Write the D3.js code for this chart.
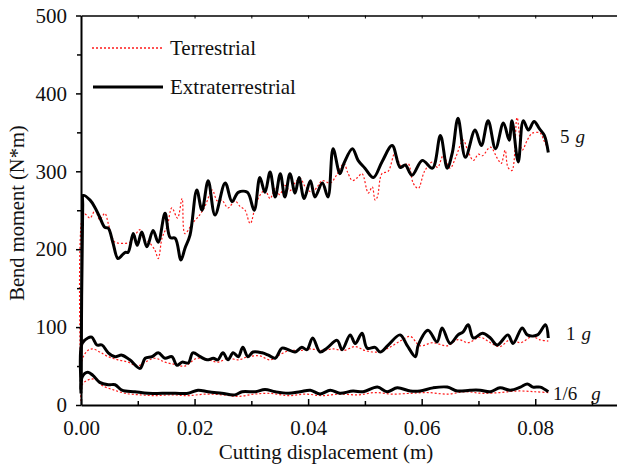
<!DOCTYPE html>
<html><head><meta charset="utf-8">
<script src="https://cdn.jsdelivr.net/npm/d3@7"></script>
<style>body{margin:0;background:#fff}svg{display:block}text{font-family:"Liberation Serif","Times New Roman",serif;fill:#111}</style>
</head><body><svg id="c" width="617" height="466"></svg>
<script>
const xTicks = [0, 0.02, 0.04, 0.06, 0.08];
const yTicks = [0, 100, 200, 300, 400, 500];
const seriesNames = ["Terrestrial", "Extraterrestrial"];
const gravityLabels = ["5 g", "1 g", "1/6 g"];

const ext5g = [[0,20],[0.0003,255],[0.0004,269],[0.0016,263],[0.0025,253],[0.0033,241],[0.0042,228],[0.0048,227],[0.0056,209],[0.0065,188],[0.0072,192],[0.0078,196],[0.0083,196],[0.0092,220],[0.0099,205],[0.0107,222],[0.0116,203],[0.0127,224],[0.0136,209],[0.0148,246],[0.0157,215],[0.0166,214],[0.0176,186],[0.0183,201],[0.0192,218],[0.0204,276],[0.0213,250],[0.0224,288],[0.0236,244],[0.0254,285],[0.0266,261],[0.0277,273],[0.0293,273],[0.0305,250],[0.0315,292],[0.0324,273],[0.0333,299],[0.0342,267],[0.0351,297],[0.0359,267],[0.0368,297],[0.0377,272],[0.0384,292],[0.0393,265],[0.0404,288],[0.0412,267],[0.0425,285],[0.0435,267],[0.0444,329],[0.0456,297],[0.0463,310],[0.0478,329],[0.0488,314],[0.0500,304],[0.0515,292],[0.0530,312],[0.0548,333],[0.0562,305],[0.0571,308],[0.0583,295],[0.0601,314],[0.0619,304],[0.0633,346],[0.0645,304],[0.0654,324],[0.0664,368],[0.0677,318],[0.0694,353],[0.0705,333],[0.0717,365],[0.0730,329],[0.0744,362],[0.0754,340],[0.0759,365],[0.0770,312],[0.0779,365],[0.0788,353],[0.0798,364],[0.0807,355],[0.0816,346],[0.0823,324]];
const ter5g = [[0,5],[0.0002,240],[0.0007,245],[0.0016,240],[0.0025,250],[0.0033,238],[0.0042,246],[0.0048,233],[0.0055,215],[0.0060,209],[0.0086,209],[0.0095,218],[0.0104,225],[0.0111,212],[0.0118,210],[0.0130,199],[0.0136,188],[0.0143,215],[0.0152,230],[0.0160,253],[0.0170,240],[0.0178,265],[0.0183,220],[0.0196,233],[0.0210,245],[0.0219,256],[0.0231,276],[0.0240,262],[0.0248,263],[0.0259,253],[0.0271,262],[0.0280,255],[0.0289,250],[0.0298,233],[0.0310,262],[0.0324,276],[0.0333,265],[0.0342,278],[0.0350,270],[0.0359,282],[0.0368,275],[0.0377,285],[0.0386,291],[0.0395,280],[0.0407,273],[0.0416,280],[0.0425,288],[0.0439,285],[0.0450,295],[0.0463,310],[0.0470,298],[0.0478,288],[0.0487,292],[0.0495,297],[0.0506,272],[0.0513,280],[0.0518,263],[0.0522,267],[0.0530,297],[0.0541,300],[0.0553,323],[0.0565,305],[0.0576,310],[0.0585,285],[0.0594,278],[0.0605,300],[0.0619,312],[0.0628,305],[0.0638,320],[0.0650,304],[0.0660,318],[0.0673,340],[0.0682,325],[0.0691,314],[0.0700,322],[0.0707,320],[0.0721,331],[0.0733,317],[0.0740,310],[0.0747,327],[0.0752,305],[0.0759,301],[0.0768,369],[0.0777,327],[0.0786,340],[0.0795,349],[0.0809,349],[0.0815,340],[0.0821,331]];
const ext1g = [[0,30],[0.0002,79],[0.0012,86],[0.0019,87],[0.0028,77],[0.0037,77],[0.0048,67],[0.0060,62],[0.0072,64],[0.0086,58],[0.0104,47],[0.0113,60],[0.0125,62],[0.0136,67],[0.0148,60],[0.0160,62],[0.0169,51],[0.0178,55],[0.0189,54],[0.0197,67],[0.0210,62],[0.0222,58],[0.0233,60],[0.0241,58],[0.0250,67],[0.0259,58],[0.0268,67],[0.0277,62],[0.0285,74],[0.0294,62],[0.0303,68],[0.0319,67],[0.0330,64],[0.0342,60],[0.0354,73],[0.0365,71],[0.0377,68],[0.0389,74],[0.0398,71],[0.0408,86],[0.0421,68],[0.0433,73],[0.0451,83],[0.0460,71],[0.0474,90],[0.0483,79],[0.0495,92],[0.0504,73],[0.0518,74],[0.0527,68],[0.0541,77],[0.0562,90],[0.0574,77],[0.0589,62],[0.0594,77],[0.0611,96],[0.0627,81],[0.0636,99],[0.0650,79],[0.0664,90],[0.0673,94],[0.0682,103],[0.0691,86],[0.0707,92],[0.0721,86],[0.0733,77],[0.0752,90],[0.0761,79],[0.0777,99],[0.0786,90],[0.0804,90],[0.0818,103],[0.0823,86]];
const ter1g = [[0,20],[0.0002,58],[0.0012,70],[0.0021,72],[0.0033,68],[0.0048,62],[0.0065,58],[0.0083,55],[0.0099,50],[0.0113,55],[0.0130,60],[0.0148,55],[0.0166,52],[0.0183,50],[0.0204,60],[0.0224,58],[0.0241,55],[0.0259,60],[0.0277,58],[0.0294,62],[0.0315,63],[0.0333,58],[0.0351,65],[0.0368,70],[0.0386,70],[0.0404,72],[0.0425,70],[0.0444,72],[0.0463,70],[0.0483,75],[0.0500,70],[0.0522,68],[0.0541,73],[0.0562,82],[0.0580,88],[0.0597,76],[0.0620,80],[0.0645,76],[0.0664,84],[0.0682,80],[0.0703,87],[0.0721,80],[0.0738,75],[0.0756,84],[0.0774,80],[0.0795,88],[0.0807,84],[0.0823,82]];
const ext16g = [[0,15],[0.0002,36],[0.0012,42],[0.0021,38],[0.0033,29],[0.0048,26],[0.0060,26],[0.0072,19],[0.0095,17],[0.0118,15],[0.0143,15],[0.0166,15],[0.0189,15],[0.0206,19],[0.0224,17],[0.0248,15],[0.0271,13],[0.0284,17],[0.0307,17],[0.0324,20],[0.0342,17],[0.0365,15],[0.0386,17],[0.0404,19],[0.0421,14],[0.0439,19],[0.0456,15],[0.0479,18],[0.0497,17],[0.0522,23],[0.0539,17],[0.0557,22],[0.0580,18],[0.0597,18],[0.0620,22],[0.0645,23],[0.0663,18],[0.0685,19],[0.0703,19],[0.0721,17],[0.0738,22],[0.0756,19],[0.0774,23],[0.0786,27],[0.0796,23],[0.0809,23],[0.0823,17]];
const ter16g = [[0,10],[0.0002,26],[0.0012,32],[0.0025,33],[0.0037,25],[0.0055,20],[0.0078,15],[0.0104,13],[0.0130,12],[0.0160,13],[0.0189,12],[0.0219,14],[0.0250,13],[0.0277,11],[0.0305,14],[0.0333,15],[0.0365,12],[0.0395,14],[0.0425,12],[0.0456,14],[0.0488,13],[0.0518,16],[0.0548,14],[0.0580,15],[0.0611,16],[0.0645,14],[0.0677,17],[0.0707,15],[0.0738,16],[0.0770,18],[0.0800,17],[0.0823,16]];

const svg = d3.select("#c");
const L = 81, R = 617, T = 15.5, B = 405;
const x = d3.scaleLinear().domain([0, 0.0944]).range([L, R]);
const y = d3.scaleLinear().domain([0, 500]).range([B, T]);

const line = d3.line().x(d => x(d[0])).y(d => y(d[1])).curve(d3.curveCatmullRom.alpha(0.5));

[ter5g, ter1g, ter16g].forEach(s => {
  svg.append("path").attr("d", line(s)).attr("fill", "none")
    .attr("stroke", "#ff1a1a").attr("stroke-width", 1.2).attr("stroke-dasharray", "2,2");
});
[ext5g, ext1g, ext16g].forEach(s => {
  svg.append("path").attr("d", line(s)).attr("fill", "none")
    .attr("stroke", "#000").attr("stroke-width", 3).attr("stroke-linejoin", "round");
});

const gx = svg.append("g").attr("transform", `translate(0,${B})`)
  .call(d3.axisBottom(x).tickValues(xTicks).tickFormat(d3.format(".2f")).tickSizeInner(-6).tickSizeOuter(0).tickPadding(15));
gx.select(".domain").attr("stroke-width", 2);
gx.selectAll(".tick line").attr("stroke-width", 1.5);
gx.selectAll("text").attr("font-size", 21).attr("font-family", "Liberation Serif");
svg.append("g").attr("transform", `translate(0,${B})`)
  .call(d3.axisBottom(x).tickValues(d3.range(0.01, 0.095, 0.02)).tickFormat("").tickSizeInner(-4).tickSizeOuter(0))
  .call(g => g.select(".domain").remove()).selectAll("line").attr("stroke-width", 1.5);

const gy = svg.append("g").attr("transform", `translate(${L},0)`)
  .call(d3.axisLeft(y).tickValues(yTicks).tickSizeInner(5).tickSizeOuter(0).tickPadding(9));
gy.select(".domain").attr("stroke-width", 2);
gy.selectAll(".tick line").attr("stroke-width", 1.5);
gy.selectAll("text").attr("font-size", 21).attr("font-family", "Liberation Serif");
svg.append("g").attr("transform", `translate(${L},0)`)
  .call(d3.axisLeft(y).tickValues(d3.range(50, 500, 100)).tickFormat("").tickSizeInner(4).tickSizeOuter(0))
  .call(g => g.select(".domain").remove()).selectAll("line").attr("stroke-width", 1.5);

const gt = svg.append("g").attr("transform", `translate(0,${T})`)
  .call(d3.axisTop(x).tickValues(d3.range(0.01, 0.095, 0.01)).tickFormat("").tickSizeInner(-3).tickSizeOuter(0));
gt.select(".domain").attr("stroke-width", 1.5);

svg.append("text").attr("x", 326).attr("y", 459).attr("text-anchor", "middle")
  .attr("font-size", 21).text("Cutting displacement (m)");
svg.append("text").attr("transform", "translate(24,213) rotate(-90)").attr("text-anchor", "middle")
  .attr("font-size", 20.5).text("Bend moment (N*m)");

svg.append("line").attr("x1", 92).attr("x2", 163).attr("y1", 48).attr("y2", 48)
  .attr("stroke", "#ff1a1a").attr("stroke-width", 1.5).attr("stroke-dasharray", "2,2");
svg.append("text").attr("x", 170).attr("y", 55).attr("font-size", 21).text(seriesNames[0]);
svg.append("line").attr("x1", 93).attr("x2", 163).attr("y1", 87).attr("y2", 87)
  .attr("stroke", "#000").attr("stroke-width", 3);
svg.append("text").attr("x", 170).attr("y", 94).attr("font-size", 21).text(seriesNames[1]);

function glabel(px, py, txt, gap) {
  const parts = txt.split(" ");
  const t = svg.append("text").attr("x", px).attr("y", py).attr("font-size", 19);
  t.append("tspan").text(parts[0]);
  t.append("tspan").attr("dx", gap).attr("font-style", "italic").text(parts[1]);
}
glabel(560, 143, gravityLabels[0], 6);
glabel(566, 340, gravityLabels[1], 6);
glabel(553, 400, gravityLabels[2], 14);
</script></body></html>
